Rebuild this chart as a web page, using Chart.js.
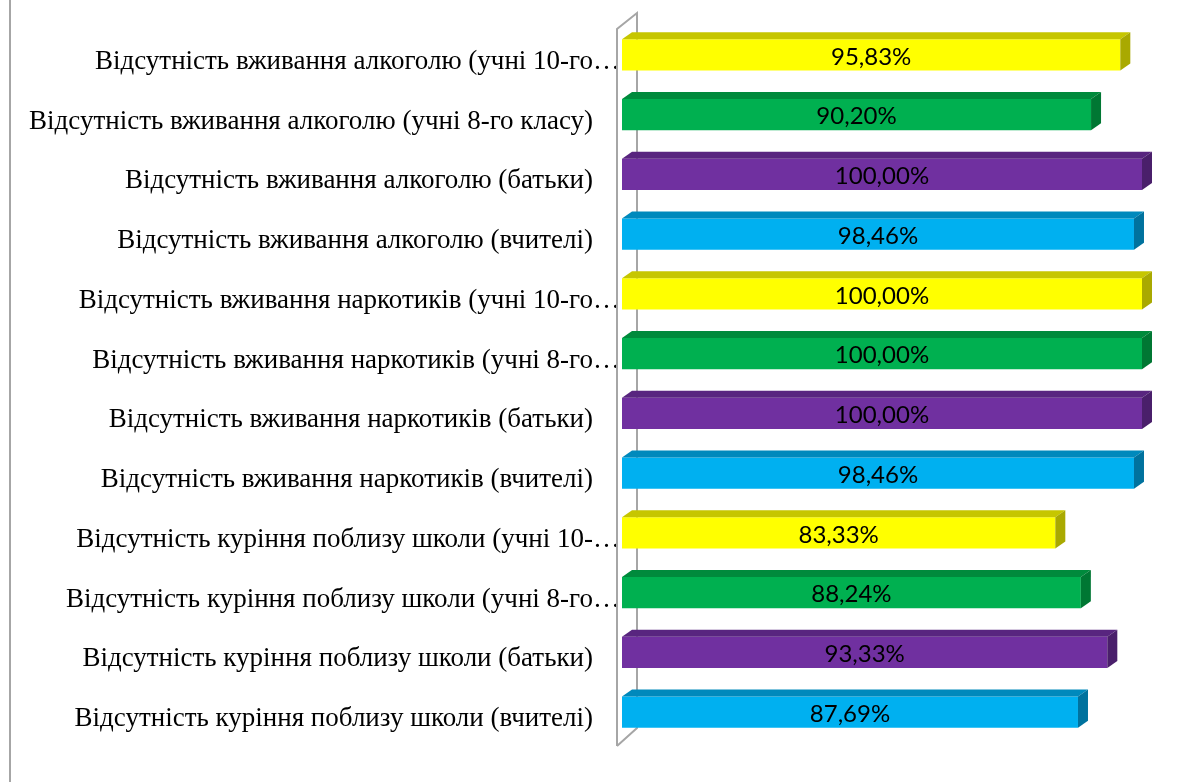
<!DOCTYPE html>
<html>
<head>
<meta charset="utf-8">
<script src="https://cdn.jsdelivr.net/npm/chart.js@4"></script>
<style>
    body { margin: 0; background: #fff; }
    #wrap { width: 1184px; height: 782px; }
</style>
</head>
<body>
<div id="wrap"><canvas id="surveyChart" width="1184" height="782"></canvas></div>
<script>
// categories as they show on the picture (long ones are cut by the chart)
const categories = [
    "Відсутність вживання алкоголю (учні 10-го…",
    "Відсутність вживання алкоголю (учні 8-го класу)",
    "Відсутність вживання алкоголю (батьки)",
    "Відсутність вживання алкоголю (вчителі)",
    "Відсутність вживання наркотиків (учні 10-го…",
    "Відсутність вживання наркотиків (учні 8-го…",
    "Відсутність вживання наркотиків (батьки)",
    "Відсутність вживання наркотиків (вчителі)",
    "Відсутність куріння поблизу школи (учні 10-…",
    "Відсутність куріння поблизу школи (учні 8-го…",
    "Відсутність куріння поблизу школи (батьки)",
    "Відсутність куріння поблизу школи (вчителі)",
];
const values = [95.83, 90.20, 100.00, 98.46, 100.00, 100.00, 100.00, 98.46, 83.33, 88.24, 93.33, 87.69];
const xMin = 0;
const xMax = 100;

// front / top / side colour per group (10-го, 8-го, батьки, вчителі)
const frontColors = ["#FFFF00", "#00B050", "#7030A0", "#00B0F0"];
const topColors = ["#C6C600", "#008A3C", "#58257F", "#0089BC"];
const sideColors = ["#A9A900", "#007733", "#4A1F6B", "#00729E"];

const DEPTH_X = 10;
const DEPTH_Y = 7;

function pick(arr, i) {
    return arr[i % arr.length];
}

function formatValue(v) {
    return v.toFixed(2).replace(".", ",") + "%";
}

// grey frame line on the left and the 3d wall behind the bars
const wallPlugin = {
    id: "wall",
    beforeDatasetsDraw(chart) {
        const ctx = chart.ctx;
        const area = chart.chartArea;
        ctx.save();
        ctx.strokeStyle = "#A6A6A6";
        ctx.lineWidth = 2;
        ctx.beginPath();
        ctx.moveTo(10, 0);
        ctx.lineTo(10, chart.height);
        ctx.stroke();

        const fx = area.left - 5;
        const bx = area.left + 15;
        ctx.beginPath();
        ctx.moveTo(fx, area.bottom + 4);
        ctx.lineTo(fx, area.top + 4);
        ctx.lineTo(bx, area.top - 12);
        ctx.lineTo(bx, area.bottom - 14);
        ctx.lineTo(fx, area.bottom + 4);
        ctx.stroke();
        ctx.restore();
    }
};

// top and right faces of each bar, plus the value inside
const bar3dPlugin = {
    id: "bar3d",
    afterDatasetsDraw(chart) {
        const ctx = chart.ctx;
        const meta = chart.getDatasetMeta(0);
        ctx.save();
        meta.data.forEach((bar, i) => {
            const p = bar.getProps(["x", "y", "base", "height"], true);
            const top = p.y - p.height / 2;
            const bottom = p.y + p.height / 2;

            ctx.fillStyle = pick(topColors, i);
            ctx.beginPath();
            ctx.moveTo(p.base, top);
            ctx.lineTo(p.base + DEPTH_X, top - DEPTH_Y);
            ctx.lineTo(p.x + DEPTH_X, top - DEPTH_Y);
            ctx.lineTo(p.x, top);
            ctx.closePath();
            ctx.fill();

            ctx.fillStyle = pick(sideColors, i);
            ctx.beginPath();
            ctx.moveTo(p.x, top);
            ctx.lineTo(p.x + DEPTH_X, top - DEPTH_Y);
            ctx.lineTo(p.x + DEPTH_X, bottom - DEPTH_Y);
            ctx.lineTo(p.x, bottom);
            ctx.closePath();
            ctx.fill();

            ctx.fillStyle = "#000";
            ctx.font = "24px Lato, 'Open Sans', sans-serif";
            ctx.textAlign = "center";
            ctx.textBaseline = "middle";
            ctx.fillText(formatValue(values[i]), (p.base + p.x) / 2, p.y + 2);
        });
        ctx.restore();
    }
};

const ctx = document.getElementById("surveyChart");
const myChart = new Chart(ctx, {
    type: "bar",
    data: {
        labels: categories,
        datasets: [
            {
                data: values,
                backgroundColor: categories.map((c, i) => pick(frontColors, i)),
                borderWidth: 0,
                barPercentage: 1,
                categoryPercentage: 0.52,
            },
        ],
    },
    options: {
        indexAxis: "y",
        responsive: false,
        animation: false,
        layout: {
            padding: { left: 0, right: 42, top: 25, bottom: 40 },
        },
        plugins: {
            legend: { display: false },
            tooltip: { enabled: false },
        },
        scales: {
            x: {
                display: false,
                min: xMin,
                max: xMax,
            },
            y: {
                grid: { display: false },
                border: { display: false },
                afterFit(scale) {
                    scale.width = 622;
                },
                ticks: {
                    padding: -6,
                    labelOffset: 7,
                    color: "#000",
                    font: { family: "'Liberation Serif', 'Times New Roman', serif", size: 27 },
                    // cut labels run up to the wall, the others stop a bit earlier
                    callback(value, index) {
                        const label = categories[index];
                        return label.endsWith("…") ? label : label + "\u2003";
                    },
                },
            },
        },
    },
    plugins: [wallPlugin, bar3dPlugin],
});
</script>
</body>
</html>
